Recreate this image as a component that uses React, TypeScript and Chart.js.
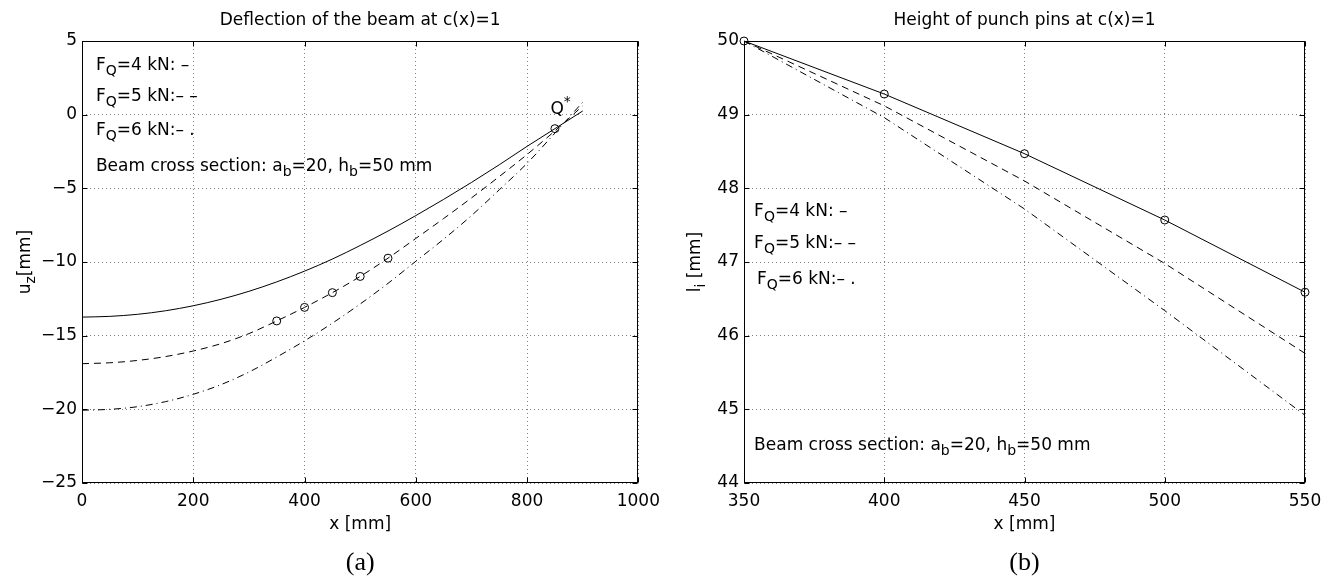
import React, { useEffect, useRef } from 'react';
import { Chart, registerables } from 'chart.js';

Chart.register(...registerables);

// ---------- data ----------
// (a) Deflection of the beam
const xBeam = [0, 50, 100, 150, 200, 250, 300, 350, 400, 450, 500, 550, 600, 650, 700, 750, 800, 850, 900];
const uF4 = [-13.74, -13.69, -13.55, -13.31, -12.97, -12.53, -11.99, -11.35, -10.62, -9.8, -8.88, -7.9, -6.85, -5.75, -4.6, -3.4, -2.15, -0.95, 0.25];
const uF5 = [-16.9, -16.84, -16.68, -16.42, -16.04, -15.54, -14.86, -14.0, -13.08, -12.08, -10.98, -9.74, -8.4, -7.05, -5.65, -4.2, -2.7, -1.1, 0.6];
const uF6 = [-20.06, -20.0, -19.82, -19.48, -18.98, -18.32, -17.47, -16.45, -15.35, -14.15, -12.85, -11.45, -9.95, -8.45, -6.85, -5.1, -3.3, -1.25, 0.85];
const pinX = [350, 400, 450, 500, 550];
const pinU = [-14.0, -13.08, -12.08, -10.98, -9.74];
const qStarX = [850];
const qStarU = [-0.95];
const xTicksA = [0, 200, 400, 600, 800, 1000];
const yTicksA = [-25, -20, -15, -10, -5, 0, 5];

// (b) Height of punch pins
const xPins = [350, 400, 450, 500, 550];
const lF4 = [50, 49.28, 48.47, 47.57, 46.59];
const lF5 = [50, 49.12, 48.1, 46.98, 45.76];
const lF6 = [50, 48.96, 47.72, 46.34, 44.92];
const xTicksB = [350, 400, 450, 500, 550];
const yTicksB = [44, 45, 46, 47, 48, 49, 50];

const FONT = '"DejaVu Sans"';
const FS = 17;

type Part = { t: string; sub?: boolean; sup?: boolean };

function drawRich(ctx: CanvasRenderingContext2D, parts: Part[], x: number, y: number, size: number, align: 'left' | 'center') {
  const small = Math.round(size * 0.8);
  const widths = parts.map((p) => {
    ctx.font = `${p.sub || p.sup ? small : size}px ${FONT}`;
    return ctx.measureText(p.t).width;
  });
  const total = widths.reduce((a, b) => a + b, 0);
  let cx = align === 'center' ? x - total / 2 : x;
  ctx.textAlign = 'left';
  ctx.textBaseline = 'alphabetic';
  parts.forEach((p, i) => {
    ctx.font = `${p.sub || p.sup ? small : size}px ${FONT}`;
    const dy = p.sub ? size * 0.3 : p.sup ? -size * 0.45 : 0;
    ctx.fillText(p.t, cx, y + dy);
    cx += widths[i];
  });
}

type Note = { parts: Part[]; x: number; y: number };

function makeDecor(cfg: { title: string; xTitle: Part[]; yTitle: Part[]; yTitleX: number; caption: string; notes: Note[] }) {
  return {
    id: 'decor',
    afterDraw(chart: any) {
      const { ctx, chartArea: a, scales } = chart;
      const xs = scales.x;
      const ys = scales.y;
      ctx.save();
      ctx.strokeStyle = '#000';
      ctx.lineWidth = 1;
      ctx.setLineDash([]);
      const L = Math.round(a.left) + 0.5;
      const R = Math.round(a.right) - 0.5;
      const T = Math.round(a.top) + 0.5;
      const B = Math.round(a.bottom) - 0.5;
      ctx.strokeRect(L, T, R - L, B - T);
      ctx.beginPath();
      xs.ticks.forEach((t: any) => {
        const px = Math.round(xs.getPixelForValue(t.value)) + 0.5;
        ctx.moveTo(px, B);
        ctx.lineTo(px, B - 5);
        ctx.moveTo(px, T);
        ctx.lineTo(px, T + 5);
      });
      ys.ticks.forEach((t: any) => {
        const py = Math.round(ys.getPixelForValue(t.value)) + 0.5;
        ctx.moveTo(L, py);
        ctx.lineTo(L + 5, py);
        ctx.moveTo(R, py);
        ctx.lineTo(R - 5, py);
      });
      ctx.stroke();

      ctx.fillStyle = '#000';
      const cx = (a.left + a.right) / 2;
      drawRich(ctx, [{ t: cfg.title }], cx, 25, FS, 'center');
      drawRich(ctx, cfg.xTitle, cx, 529, FS, 'center');
      ctx.save();
      ctx.translate(cfg.yTitleX, (a.top + a.bottom) / 2);
      ctx.rotate(-Math.PI / 2);
      drawRich(ctx, cfg.yTitle, 0, 0, FS, 'center');
      ctx.restore();

      ctx.font = '26px "Liberation Serif"';
      ctx.textAlign = 'center';
      ctx.textBaseline = 'alphabetic';
      ctx.fillText(cfg.caption, cx, 570);

      cfg.notes.forEach((n) => {
        drawRich(ctx, n.parts, xs.getPixelForValue(n.x), ys.getPixelForValue(n.y), FS, 'left');
      });
      ctx.restore();
    },
  };
}

const pts = (xs: number[], ys: number[]) => xs.map((x, i) => ({ x, y: ys[i] }));
const minus = (v: any) => String(v).replace('-', '\u2212');

function lineDs(data: any[], dash: number[], smooth: boolean) {
  return {
    data,
    borderColor: '#000',
    borderWidth: 1,
    borderDash: dash,
    pointRadius: 0,
    fill: false,
    cubicInterpolationMode: smooth ? 'monotone' : 'default',
    tension: 0,
  };
}

function markerDs(data: any[]) {
  return {
    data,
    showLine: false,
    pointRadius: 4,
    pointStyle: 'circle',
    pointBorderColor: '#000',
    pointBackgroundColor: 'rgba(0,0,0,0)',
    pointBorderWidth: 1,
    clip: false,
  };
}

function scaleOpts(min: number, max: number, ticks: number[], axis: 'x' | 'y', fixed: number, pad: number) {
  return {
    type: 'linear',
    min,
    max,
    afterBuildTicks: (s: any) => {
      s.ticks = ticks.map((v) => ({ value: v }));
    },
    afterFit: (s: any) => {
      if (axis === 'y') s.width = fixed;
      else s.height = fixed;
    },
    ticks: {
      font: { family: 'DejaVu Sans', size: FS },
      color: '#000',
      padding: pad,
      maxRotation: 0,
      autoSkip: false,
      callback: minus,
    },
    grid: { color: 'rgba(0,0,0,0.5)', lineWidth: 1, drawTicks: false },
    border: { display: false, dash: [1, 3] },
  };
}

const DASH = [7, 5];
const DASHDOT = [7, 4, 1, 4];

function legendNotes(x: number, ys: number[], xs?: number[]): Note[] {
  const labels = ['4 kN: \u2013', '5 kN:\u2013 \u2013', '6 kN:\u2013 .'];
  return labels.map((l, i) => ({
    parts: [{ t: 'F' }, { t: 'Q', sub: true }, { t: '=' + l }],
    x: xs ? xs[i] : x,
    y: ys[i],
  }));
}

const beamNote = (x: number, y: number): Note => ({
  parts: [{ t: 'Beam cross section: a' }, { t: 'b', sub: true }, { t: '=20, h' }, { t: 'b', sub: true }, { t: '=50 mm' }],
  x,
  y,
});

export default function App() {
  const refA = useRef<HTMLCanvasElement | null>(null);
  const refB = useRef<HTMLCanvasElement | null>(null);

  useEffect(() => {
    const chartA = new Chart(refA.current as HTMLCanvasElement, {
      type: 'line',
      data: {
        datasets: [
          lineDs(pts(xBeam, uF4), [], true),
          lineDs(pts(xBeam, uF5), DASH, true),
          lineDs(pts(xBeam, uF6), DASHDOT, true),
          markerDs(pts(pinX, pinU)),
          markerDs(pts(qStarX, qStarU)),
        ] as any,
      },
      options: {
        responsive: false,
        animation: false,
        layout: { padding: { top: 41, right: 25, left: 0, bottom: 0 } },
        plugins: { legend: { display: false }, tooltip: { enabled: false }, title: { display: false } },
        scales: {
          x: scaleOpts(0, 1000, xTicksA, 'x', 96, 8) as any,
          y: scaleOpts(-25, 5, yTicksA, 'y', 82, 5) as any,
        },
      },
      plugins: [
        makeDecor({
          title: 'Deflection of the beam at c(x)=1',
          xTitle: [{ t: 'x [mm]' }],
          yTitle: [{ t: 'u' }, { t: 'z', sub: true }, { t: '[mm]' }],
          yTitleX: 30,
          caption: '(a)',
          notes: [
            ...legendNotes(25, [3.03, 0.93, -1.38]),
            beamNote(25, -3.82),
            { parts: [{ t: 'Q' }, { t: '*', sup: true }], x: 842, y: 0.05 },
          ],
        }) as any,
      ],
    } as any);

    const chartB = new Chart(refB.current as HTMLCanvasElement, {
      type: 'line',
      data: {
        datasets: [
          { ...lineDs(pts(xPins, lF4), [], false), ...markerDs(pts(xPins, lF4)), showLine: true },
          lineDs(pts(xPins, lF5), DASH, false),
          lineDs(pts(xPins, lF6), DASHDOT, false),
        ] as any,
      },
      options: {
        responsive: false,
        animation: false,
        layout: { padding: { top: 41, right: 32, left: 0, bottom: 0 } },
        plugins: { legend: { display: false }, tooltip: { enabled: false }, title: { display: false } },
        scales: {
          x: scaleOpts(350, 550, xTicksB, 'x', 96, 8) as any,
          y: scaleOpts(44, 50, yTicksB, 'y', 76, 5) as any,
        },
      },
      plugins: [
        makeDecor({
          title: 'Height of punch pins at c(x)=1',
          xTitle: [{ t: 'x [mm]' }],
          yTitle: [{ t: 'l' }, { t: 'i', sub: true }, { t: ' [mm]' }],
          yTitleX: 32,
          caption: '(b)',
          notes: [
            ...legendNotes(353.6, [47.62, 47.19, 46.7], [353.6, 353.6, 354.6]),
            beamNote(353.6, 44.45),
          ],
        }) as any,
      ],
    } as any);

    return () => {
      chartA.destroy();
      chartB.destroy();
    };
  }, []);

  return (
    <div style={{ position: 'fixed', left: 0, top: 0, width: 1337, height: 579, background: '#fff' }}>
      <canvas ref={refA} width={668} height={579} style={{ position: 'absolute', left: 0, top: 0 }} />
      <canvas ref={refB} width={669} height={579} style={{ position: 'absolute', left: 668, top: 0 }} />
    </div>
  );
}
